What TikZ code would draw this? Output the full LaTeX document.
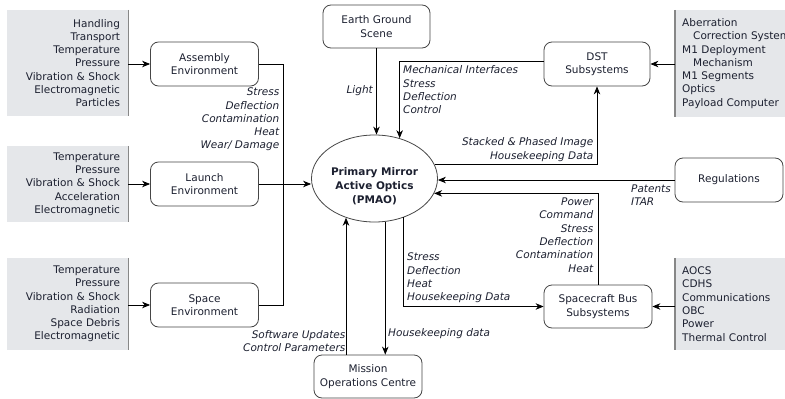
\documentclass[tikz,border=0pt]{standalone}
\usepackage{fontspec}
\setmainfont{DejaVu Sans}
\usetikzlibrary{arrows.meta,shapes.geometric}
\definecolor{txt}{RGB}{28,32,48}
\definecolor{panel}{RGB}{229,231,234}
\definecolor{panelrule}{RGB}{135,135,135}
\definecolor{frame}{RGB}{70,70,70}
\begin{document}
\begin{tikzpicture}[x=1pt,y=-1pt,
  every node/.style={font=\fontsize{10.5}{13.3}\selectfont, text=txt},
  rbox/.style={draw=frame, line width=0.8pt, rounded corners=8pt,
    minimum width=108pt, minimum height=44pt, align=center, inner sep=2pt},
  lpanel/.style={fill=panel, text width=105pt, align=right,
    inner xsep=8pt, inner ysep=0pt},
  rpanel/.style={fill=panel, text width=120pt, align=left,
    inner xsep=7pt, inner ysep=0pt, anchor=west},
  lab/.style={font=\fontsize{10.5}{13.3}\selectfont\itshape, inner sep=0pt},
  conn/.style={line width=0.8pt, draw=black},
  arr/.style={conn, -{Stealth[length=8pt,width=6.5pt,inset=2.5pt]}},
  rule/.style={draw=panelrule, line width=1.2pt}
]
\useasboundingbox (0,0) rectangle (785,399);
\fill[white] (0,0) rectangle (785,399);

% ---- environment inputs (left panels) ----
\node[lpanel, minimum height=106pt] (penv1) at (67.5,63)
  {Handling\\Transport\\Temperature\\Pressure\\Vibration \& Shock\\Electromagnetic\\Particles};
\node[lpanel, minimum height=76pt] (penv2) at (67.5,184)
  {Temperature\\Pressure\\Vibration \& Shock\\Acceleration\\Electromagnetic};
\node[lpanel, minimum height=92pt] (penv3) at (67.5,304)
  {Temperature\\Pressure\\Vibration \& Shock\\Radiation\\Space Debris\\Electromagnetic};
\foreach \p in {penv1,penv2,penv3}
  \draw[rule] (\p.north east) -- (\p.south east);

% ---- subsystem lists (right panels) ----
\node[rpanel, minimum height=107pt] (psub1) at (675,63.5)
  {Aberration\\\hspace*{11pt}Correction System\\M1 Deployment\\\hspace*{11pt}Mechanism\\M1 Segments\\Optics\\Payload Computer};
\node[rpanel, minimum height=92pt] (psub2) at (675,304)
  {AOCS\\CDHS\\Communications\\OBC\\Power\\Thermal Control};
\foreach \p in {psub1,psub2}
  \draw[rule] (\p.north west) -- (\p.south west);

% ---- rounded boxes ----
\node[rbox] (asm)   at (204.5,64)    {Assembly\\Environment};
\node[rbox] (lau)   at (204.5,184)   {Launch\\Environment};
\node[rbox] (spa)   at (204.5,305)   {Space\\Environment};
\node[rbox, minimum width=107pt, minimum height=43pt] (earth) at (376.5,26.5) {Earth Ground\\Scene};
\node[rbox, minimum width=106pt] (dst)   at (597,64)     {DST\\Subsystems};
\node[rbox] (reg)   at (729,180)     {Regulations};
\node[rbox, minimum height=43pt] (sbus)  at (598,306.5)   {Spacecraft Bus\\Subsystems};
\node[rbox, minimum height=43pt] (moc)   at (368,376.5)   {Mission\\Operations Centre};

% ---- central element ----
\node[draw=frame, line width=0.8pt, ellipse, minimum width=126pt,
  minimum height=87pt, inner sep=0pt] (pmao) at (374.5,178.5) {};
\node[font=\fontsize{10.5}{13.8}\selectfont\bfseries, align=center, inner sep=0pt]
  (pmaotxt) at (374.5,186.5) {Primary Mirror\\Active Optics\\(PMAO)};

% ---- environment flows ----
\draw[arr] (asm.west -| penv1.east) -- (asm.west);
\draw[arr] (lau.west -| penv2.east) -- (lau.west);
\draw[arr] (spa.west -| penv3.east) -- (spa.west);
\coordinate (bus) at (283,0);
\draw[conn] (asm.east) -- (asm.east -| bus) -- (spa.east -| bus) -- (spa.east);
\draw[arr] (lau.east) -- (lau.east -| pmao.west);
\node[lab, anchor=east, align=right] (lenv) at (279.5,119.5)
  {Stress\\Deflection\\Contamination\\Heat\\Wear/ Damage};

% ---- scene ----
\draw[arr] (earth.south) -- (earth.south |- pmao.north);
\node[lab, anchor=east] (llight) at (373,91) {Light};

% ---- DST subsystems ----
\draw[arr] (dst.east -| psub1.west) -- (dst.east);
\draw[arr] ([yshift=3pt]dst.west) -| (pmao.58);
\node[lab, anchor=west, align=left] (lmech) at (403,90)
  {Mechanical Interfaces\\Stress\\Deflection\\Control};
\draw[arr] (pmao.13) -| (dst.south);
\node[lab, anchor=east, align=right] (limg) at (593.5,149.5)
  {Stacked \& Phased Image\\Housekeeping Data};

% ---- regulations ----
\draw[arr] (reg.west) -- (reg.west -| pmao.east);
\node[lab, anchor=west, align=left] (lreg) at (631,195.5) {Patents\\ITAR};

% ---- spacecraft bus ----
\draw[arr] (sbus.east -| psub2.west) -- (sbus.east);
\draw[arr] (sbus.north) |- (pmao.-14);
\node[lab, anchor=east, align=right] (lbusin) at (593.5,235)
  {Power\\Command\\Stress\\Deflection\\Contamination\\Heat};
\draw[arr] (pmao.-53) |- (sbus.west);
\node[lab, anchor=west, align=left] (lbusout) at (407,278)
  {Stress\\Deflection\\Heat\\Housekeeping Data};

% ---- mission operations ----
\draw[arr] (pmao.-76) -- (pmao.-76 |- moc.north);
\node[lab, anchor=west] (lhk) at (388,334) {Housekeeping data};
\draw[arr] (pmao.-126 |- moc.north) -- (pmao.-126);
\node[lab, anchor=east, align=right] (lsw) at (345.5,341)
  {Software Updates\\Control Parameters};
\end{tikzpicture}
\end{document}
